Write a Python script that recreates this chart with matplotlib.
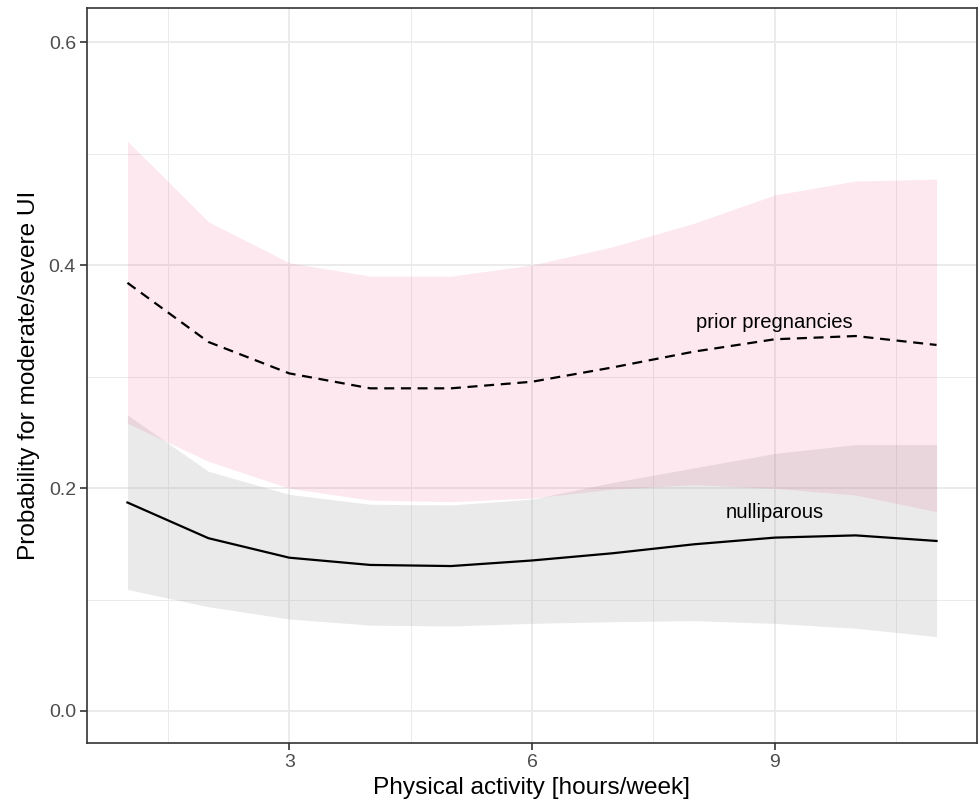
import matplotlib
matplotlib.use("Agg")
import matplotlib.pyplot as plt
import numpy as np

plt.rcParams['font.family'] = ['Liberation Sans', 'DejaVu Sans']

# hours of physical activity per week
hours = [1, 2, 3, 4, 5, 6, 7, 8, 9, 10, 11]

# nulliparous: predicted probability and 95% band
nulli_fit = [0.187, 0.155, 0.1375, 0.131, 0.130, 0.135, 0.1415, 0.1495, 0.1555, 0.1575, 0.1525]
nulli_lo = [0.109, 0.0935, 0.0825, 0.077, 0.0762, 0.0786, 0.0801, 0.081, 0.0786, 0.0742, 0.0667]
nulli_hi = [0.2655, 0.215, 0.1943, 0.1854, 0.1848, 0.190, 0.205, 0.218, 0.231, 0.239, 0.239]

# prior pregnancies: predicted probability and 95% band
prior_fit = [0.384, 0.331, 0.3028, 0.2894, 0.2894, 0.2953, 0.3082, 0.3223, 0.3334, 0.3363, 0.3283]
prior_lo = [0.258, 0.224, 0.1997, 0.1892, 0.1877, 0.191, 0.199, 0.203, 0.1997, 0.1937, 0.1788]
prior_hi = [0.511, 0.4388, 0.402, 0.390, 0.390, 0.400, 0.4164, 0.4374, 0.4628, 0.4753, 0.477]

group_labels = ['nulliparous', 'prior pregnancies']

fig = plt.figure(figsize=(9.79, 8.05), dpi=100)
ax = fig.add_axes([87/979, 1 - 743/805, 890/979, 735/805])

# grid first, like ggplot
ax.set_axisbelow(True)
ax.set_xlim(0.5, 11.5)
ax.set_ylim(-0.0287, 0.6305)
ax.set_xticks([3, 6, 9])
ax.set_xticks([1.5, 4.5, 7.5, 10.5], minor=True)
ax.set_yticks([0.0, 0.2, 0.4, 0.6])
ax.set_yticklabels(['0.0', '0.2', '0.4', '0.6'])
ax.set_yticks([0.1, 0.3, 0.5], minor=True)
ax.grid(which='major', color='#EBEBEB', linewidth=1.4)
ax.grid(which='minor', color='#EBEBEB', linewidth=0.7)

ax.fill_between(hours, nulli_lo, nulli_hi, color='#999999', alpha=0.2, linewidth=0)
ax.fill_between(hours, prior_lo, prior_hi, color='#E8477A', alpha=0.12, linewidth=0)

ax.plot(hours, nulli_fit, color='black', linewidth=1.6)
ax.plot(hours, prior_fit, color='black', linewidth=1.6, linestyle=(0, (4.5, 3)))

ax.text(9, 0.1734, group_labels[0], ha='center', va='baseline', fontsize=14.6)
ax.text(9, 0.3438, group_labels[1], ha='center', va='baseline', fontsize=14.6)

for s in ax.spines.values():
    s.set_color('#333333')
    s.set_linewidth(1.2)
ax.tick_params(which='major', length=5, width=1.2, color='#333333',
               labelcolor='#4D4D4D', labelsize=14, pad=3)
ax.tick_params(which='minor', length=0)

ax.set_xlabel('Physical activity [hours/week]', fontsize=17.6, labelpad=4)
ax.set_ylabel('Probability for moderate/severe UI', fontsize=17.6, labelpad=6)

fig.savefig('out.png', dpi=100)
